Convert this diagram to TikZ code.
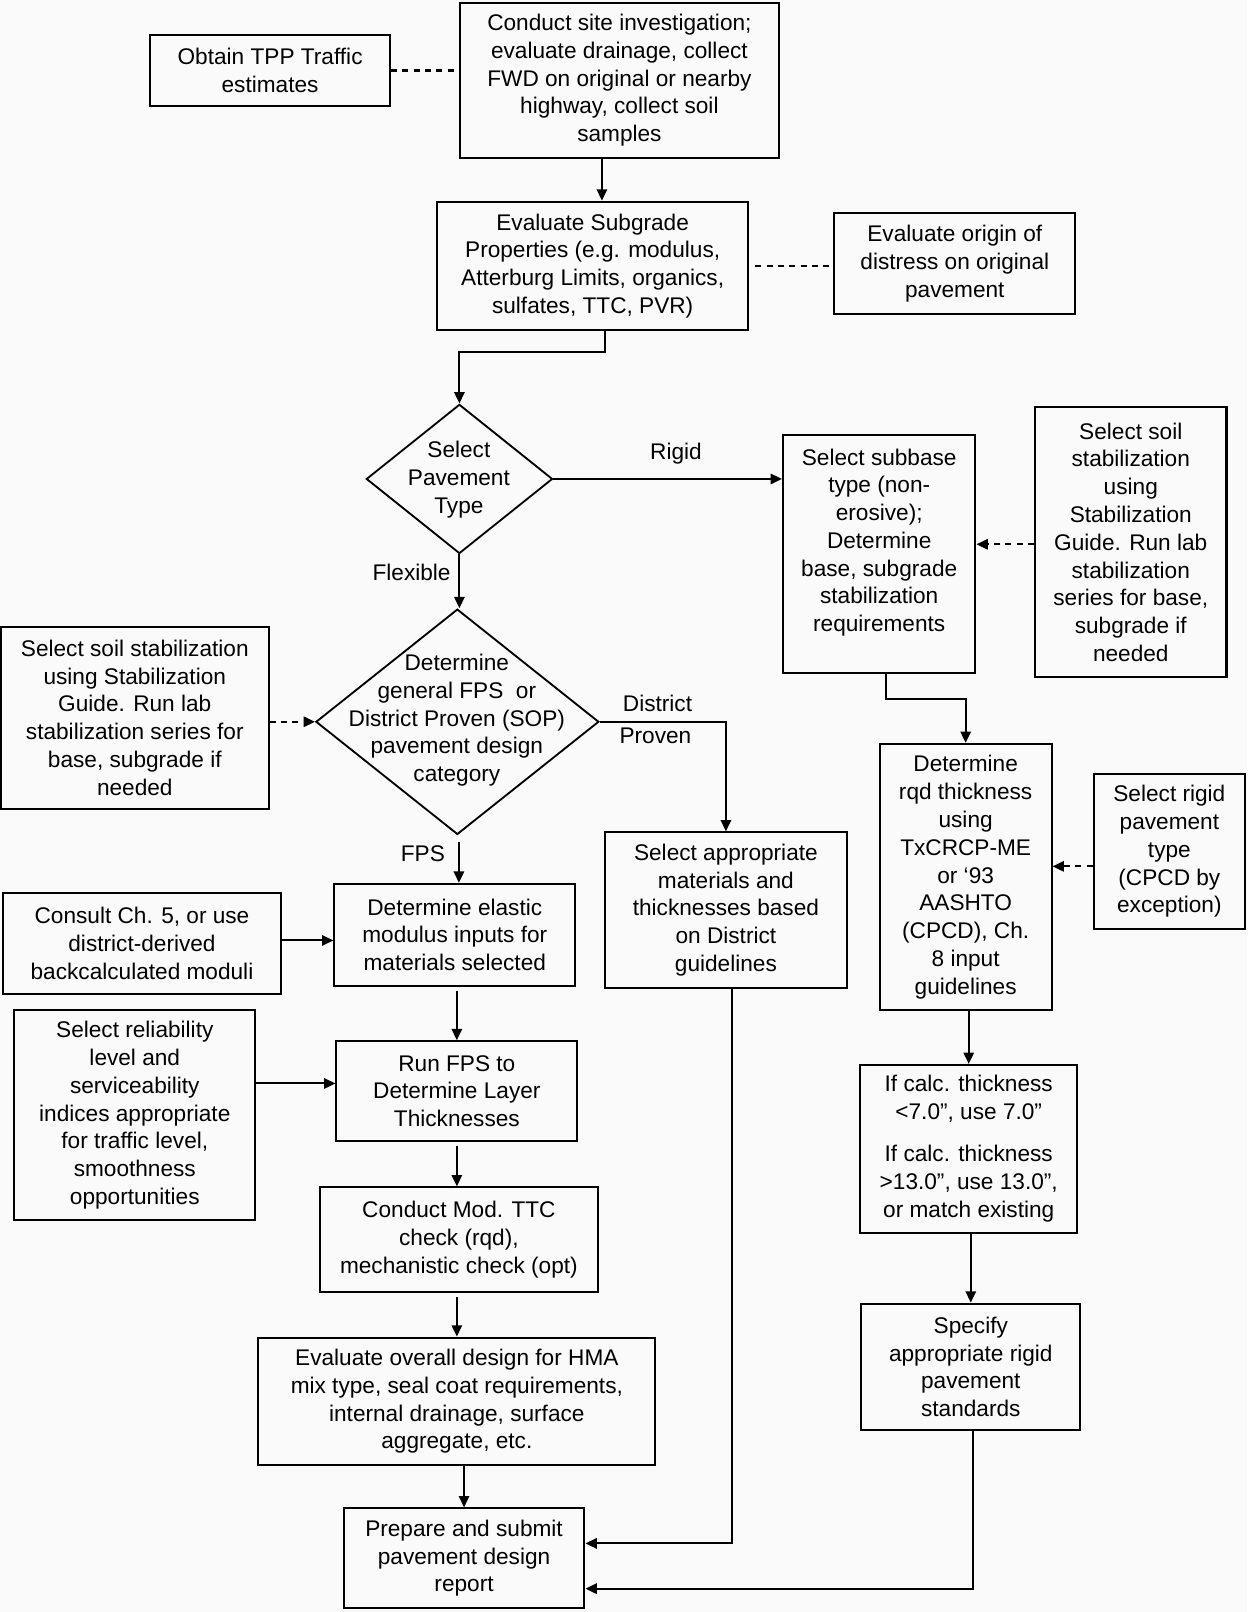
\documentclass[tikz,border=0pt]{standalone}
\usepackage{fontspec}
\setmainfont{Liberation Sans}
\usetikzlibrary{arrows.meta,shapes.geometric}
\definecolor{bg}{RGB}{250,250,250}
\begin{document}
\begin{tikzpicture}[x=0.5pt,y=-0.5pt,
  box/.style={draw, line width=1pt, inner sep=0pt, align=center, font=\fontsize{11pt}{13.5pt}\selectfont},
  dia/.style={draw, diamond, line width=0.9pt, inner sep=0pt},
  txt/.style={inner sep=0pt, align=center, font=\fontsize{11pt}{13.5pt}\selectfont},
  conn/.style={line width=1pt},
  tip/.style={-{Triangle[length=5.5pt,width=5pt]}},
  arr/.style={conn, tip},
  dsh/.style={conn, dash pattern=on 3pt off 2.5pt},
]
\useasboundingbox[fill=bg] (0,0) rectangle (1212,1566.7);

% boxes
\node[box, minimum width=155pt, minimum height=75.5pt] (site) at (602,78) {Conduct site investigation;\\evaluate drainage, collect\\FWD on original or nearby\\highway, collect soil\\samples};
\node[box, minimum width=116.5pt, minimum height=34.5pt] (tpp) at (262.5,68.5) {Obtain TPP Traffic\\estimates};
\node[box, minimum width=151pt, minimum height=62.5pt] (evs) at (576,258.5) {Evaluate Subgrade\\Properties (e.g. modulus,\\Atterburg Limits, organics,\\sulfates, TTC, PVR)};
\node[box, minimum width=117pt, minimum height=49pt] (dist) at (928,256) {Evaluate origin of\\distress on original\\pavement};
\node[dia, minimum width=90.5pt, minimum height=72.5pt] (d1) at (446.5,465.5) {};
\node[txt] (d1t) at (446,466) {Select\\Pavement\\Type};
\node[box, minimum width=93.5pt, minimum height=115.5pt] (subbase) at (854.5,538.5) {Select subbase\\type (non-\\erosive);\\Determine\\base, subgrade\\stabilization\\requirements\\\mbox{}};
\node[box, minimum width=93pt, minimum height=131pt] (stabR) at (1099,527) {Select soil\\stabilization\\using\\Stabilization\\Guide. Run lab\\stabilization\\series for base,\\subgrade if\\needed};
\node[dia, minimum width=137.5pt, minimum height=109.5pt] (d2) at (444.5,701.5) {};
\node[txt] (d2t) at (444,700) {Determine\\general FPS\ \ or\\District Proven (SOP)\\pavement design\\category};
\node[box, minimum width=130pt, minimum height=88.5pt] (stabL) at (131,697.5) {Select soil stabilization\\using Stabilization\\Guide. Run lab\\stabilization series for\\base, subgrade if\\needed};
\node[box, minimum width=117.5pt, minimum height=75.5pt] (mat) at (705.5,884.5) {Select appropriate\\materials and\\thicknesses based\\on District\\guidelines};
\node[box, minimum width=117pt, minimum height=49.5pt] (elastic) at (442,908.5) {Determine elastic\\modulus inputs for\\materials selected};
\node[box, minimum width=135pt, minimum height=49pt] (consult) at (138,917) {Consult Ch. 5, or use\\district-derived\\backcalculated moduli};
\node[box, minimum width=117pt, minimum height=48.5pt] (runfps) at (444,1060.5) {Run FPS to\\Determine Layer\\Thicknesses};
\node[box, minimum width=117pt, minimum height=102pt] (rel) at (131,1084) {Select reliability\\level and\\serviceability\\indices appropriate\\for traffic level,\\smoothness\\opportunities};
\node[box, minimum width=135pt, minimum height=51pt] (ttc) at (446,1205) {Conduct Mod. TTC\\check (rqd),\\mechanistic check (opt)};
\node[box, minimum width=193pt, minimum height=62pt] (hma) at (444,1362) {Evaluate overall design for HMA\\mix type, seal coat requirements,\\internal drainage, surface\\aggregate, etc.};
\node[box, minimum width=117pt, minimum height=48.5pt] (report) at (451,1514.5) {Prepare and submit\\pavement design\\report};
\node[box, minimum width=83.5pt, minimum height=129.5pt] (rqd) at (938.5,852.5) {Determine\\rqd thickness\\using\\TxCRCP-ME\\or ‘93\\AASHTO\\(CPCD), Ch.\\8 input\\guidelines};
\node[box, minimum width=73.5pt, minimum height=75.5pt] (rigid) at (1136.5,827.5) {Select rigid\\pavement\\type\\(CPCD by\\exception)};
\node[box, minimum width=105.5pt, minimum height=81.5pt] (calc) at (941.5,1116.5) {If calc. thickness\\<7.0”, use 7.0”\\[7pt]If calc. thickness\\>13.0”, use 13.0”,\\or match existing};
\node[box, minimum width=106.5pt, minimum height=61.5pt] (spec) at (943.5,1328.5) {Specify\\appropriate rigid\\pavement\\standards};

% labels
\node[txt] (lrigid) at (657,441) {Rigid};
\node[txt] (lflex) at (400,556) {Flexible};
\node[txt] (ldist) at (639,684) {District};
\node[txt] (lprov) at (637,715) {Proven};
\node[txt] (lfps) at (411,830) {FPS};

% connectors
\draw[dsh] (tpp.east) -- (tpp.east -| site.west);
\draw[arr] ([xshift=-8.5pt]site.south) -- ([xshift=-8.5pt]site.south |- evs.north);
\draw[dsh, shorten <=3pt] (evs.east) -- (evs.east -| dist.west);
\draw[arr] ([xshift=6pt]evs.south) -- ++(0,20) -| (d1.north);
\draw[arr] (d1.east) -- (d1.east -| subbase.west);
\draw[arr] (d1.south) -- (d1.south |- d2.north);
\draw[dsh, tip] ([yshift=-1pt]stabR.west) -- ([yshift=-1pt]stabR.west -| subbase.east);
\draw[dsh, tip] (stabL.east |- d2.west) -- (d2.west);
\draw[arr] (d2.east) -| (mat.north);
\draw[arr, shorten <=3pt] ([xshift=0.75pt]d2.south) -- ([xshift=0.75pt]d2.south |- elastic.north);
\draw[arr] ([yshift=1.5pt]consult.east) -- ([yshift=1.5pt]consult.east -| elastic.west);
\draw[arr, shorten <=2pt] (runfps.north |- elastic.south) -- (runfps.north);
\draw[arr] ([yshift=15.5pt]rel.east) -- ([yshift=15.5pt]rel.east -| runfps.west);
\draw[arr, shorten <=2pt] (runfps.south) -- (runfps.south |- ttc.north);
\draw[arr, shorten <=2pt] (hma.north |- ttc.south) -- (hma.north);
\draw[arr] (report.north |- hma.south) -- (report.north);
\draw[arr] ([xshift=2.75pt]mat.south) |- ([yshift=7.25pt]report.east);
\draw[arr] ([xshift=1.25pt]spec.south) |- ([yshift=-14.75pt]report.east);
\draw[arr] ([xshift=3.25pt]subbase.south) -- ++(0,24) -| (rqd.north);
\draw[dsh, tip] ([yshift=-7.25pt]rigid.west) -- ([yshift=-7.25pt]rigid.west -| rqd.east);
\draw[arr] (calc.north |- rqd.south) -- (calc.north);
\draw[arr] (spec.north |- calc.south) -- (spec.north);
\end{tikzpicture}
\end{document}
